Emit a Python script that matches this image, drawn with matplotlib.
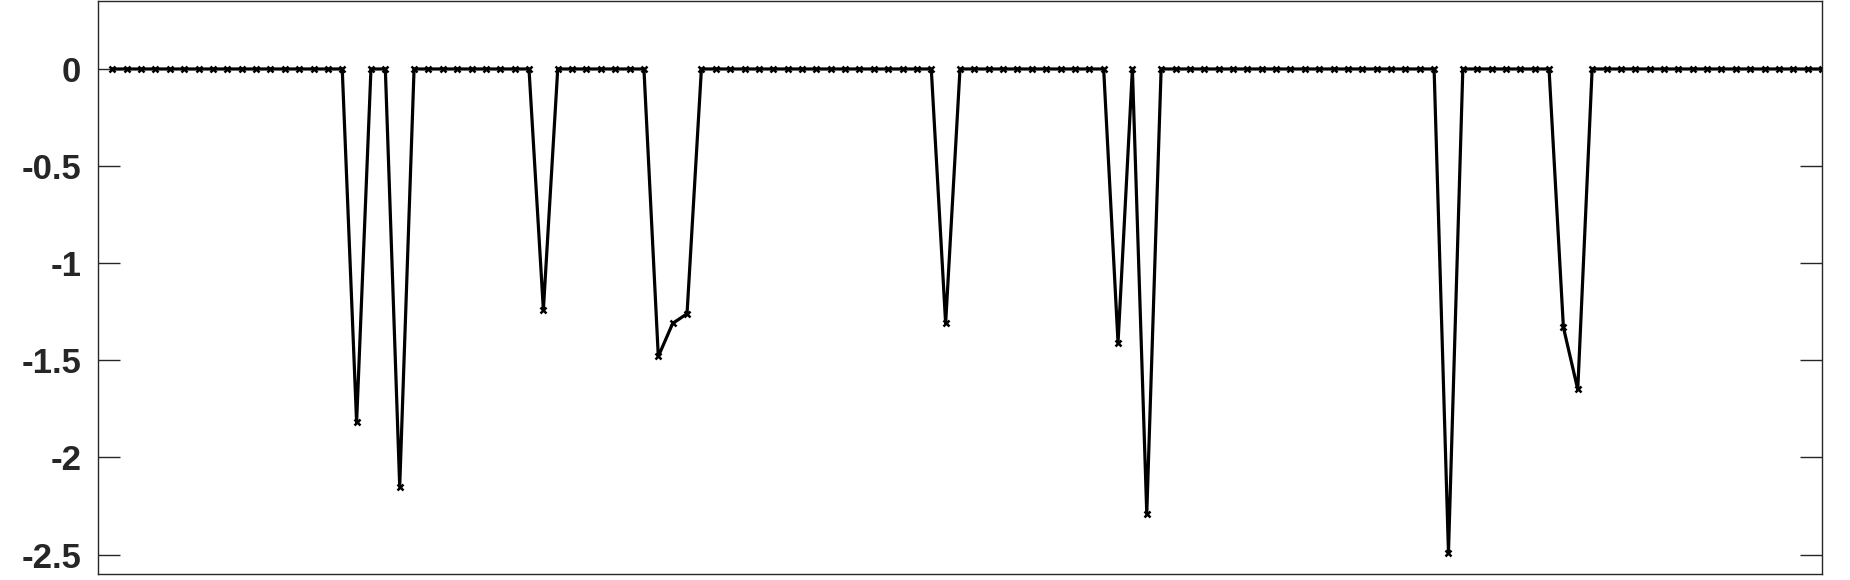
import matplotlib
matplotlib.use("Agg")
import matplotlib.pyplot as plt
import numpy as np

# sample index 1..120
sample_idx = list(range(1, 121))

# values (mostly zero, with negative dips)
values = [
    0, 0, 0, 0, 0, 0, 0, 0, 0, 0,
    0, 0, 0, 0, 0, 0, 0, -1.82, 0, 0,
    -2.15, 0, 0, 0, 0, 0, 0, 0, 0, 0,
    -1.24, 0, 0, 0, 0, 0, 0, 0, -1.48, -1.31,
    -1.26, 0, 0, 0, 0, 0, 0, 0, 0, 0,
    0, 0, 0, 0, 0, 0, 0, 0, -1.31, 0,
    0, 0, 0, 0, 0, 0, 0, 0, 0, 0,
    -1.41, 0, -2.29, 0, 0, 0, 0, 0, 0, 0,
    0, 0, 0, 0, 0, 0, 0, 0, 0, 0,
    0, 0, 0, -2.49, 0, 0, 0, 0, 0, 0,
    0, -1.33, -1.65, 0, 0, 0, 0, 0, 0, 0,
    0, 0, 0, 0, 0, 0, 0, 0, 0, 0,
]

y_ticks = [-2.5, -2, -1.5, -1, -0.5, 0]
y_tick_labels = ["-2.5", "-2", "-1.5", "-1", "-0.5", "0"]

plt.rcParams['font.family'] = ['Liberation Sans', 'DejaVu Sans']

fig = plt.figure(figsize=(18.5, 5.8), dpi=100)
ax = fig.add_axes([98 / 1850, 6 / 580, 1724 / 1850, 573 / 580])

ax.plot(sample_idx, values, color='black', linewidth=2.3,
        marker='x', markersize=4.5, markeredgewidth=1.8)

ax.set_xlim(0, 120)
ax.set_ylim(-2.6, 0.35)
ax.set_xticks([])
ax.set_yticks(y_ticks)
ax.set_yticklabels(y_tick_labels, fontsize=25, fontweight='bold', color='#262626')
ax.tick_params(axis='y', direction='in', length=16, width=1.0,
               right=True, left=True, pad=12, colors='#262626')
for sp in ax.spines.values():
    sp.set_linewidth(1.0)
    sp.set_color('#262626')

fig.savefig("out.png", dpi=100)
plt.close(fig)
